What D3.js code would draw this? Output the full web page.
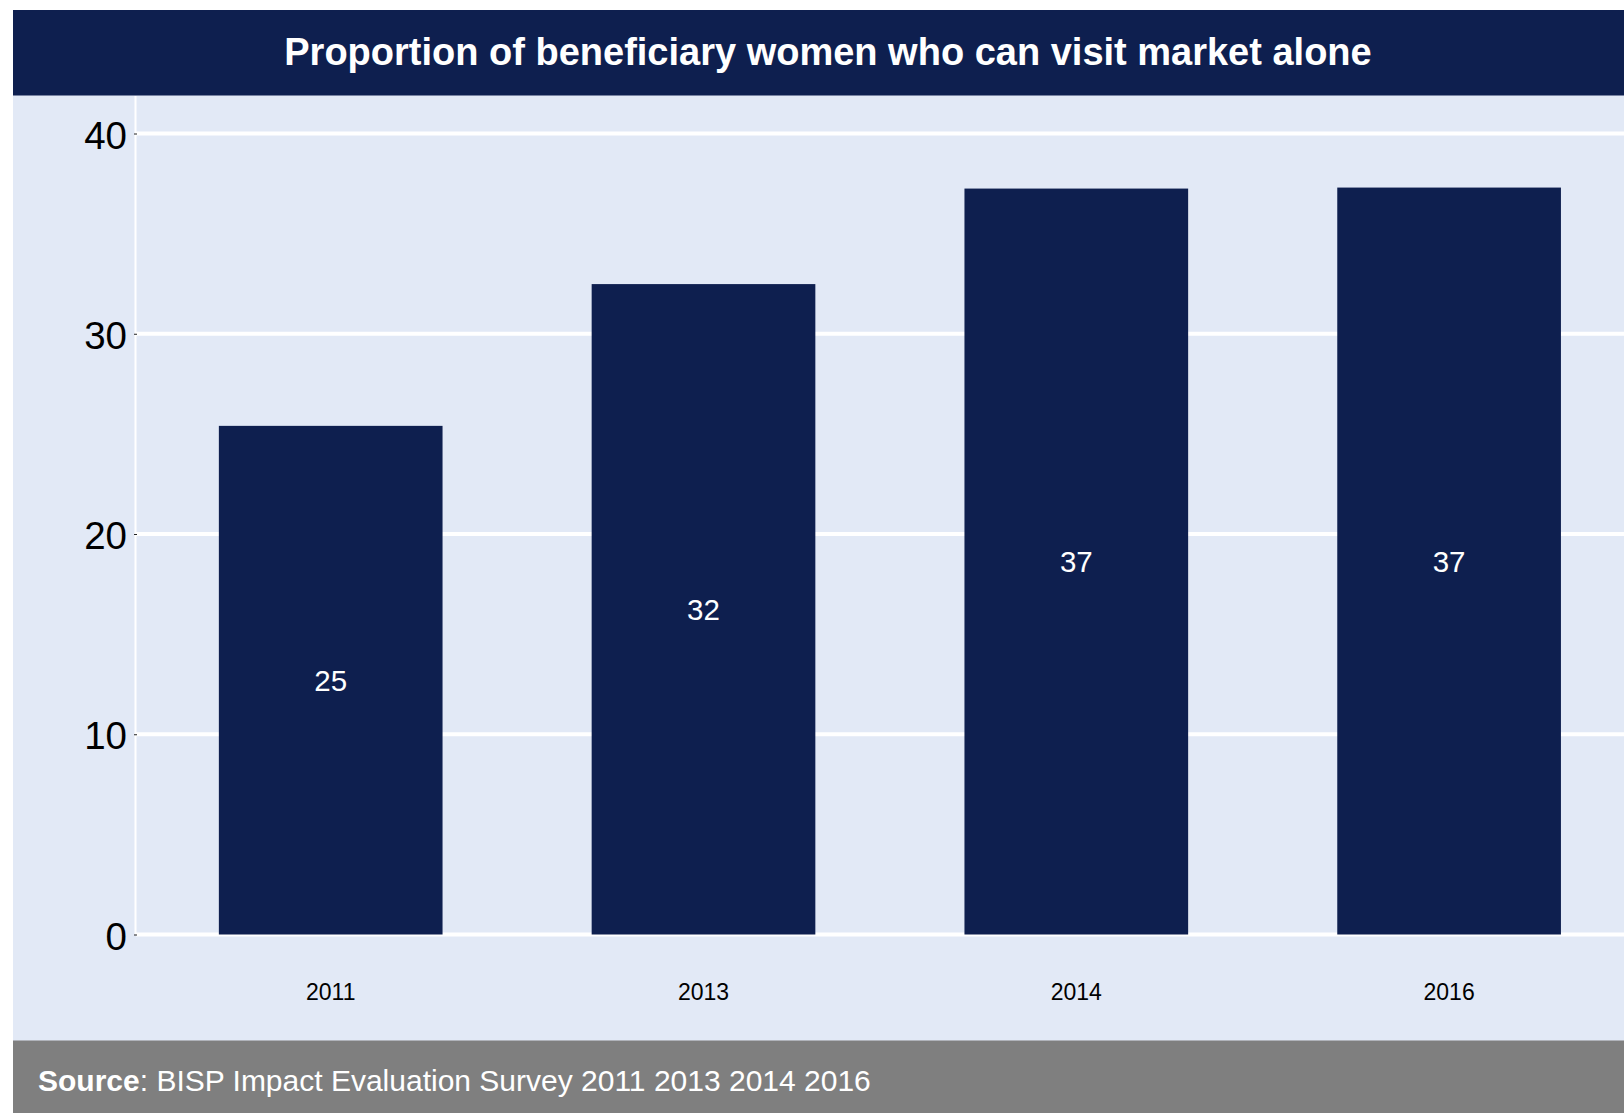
<!DOCTYPE html>
<html>
<head>
<meta charset="utf-8">
<script src="https://cdn.jsdelivr.net/npm/d3@7"></script>
<style>
  html, body { margin: 0; padding: 0; background: #ffffff; }
  svg { display: block; font-family: "Liberation Sans", Arial, Helvetica, sans-serif; }
</style>
</head>
<body>
<svg id="chart" width="1624" height="1113"></svg>
<script>
// ---- data ----
const years = ["2011", "2013", "2014", "2016"];
const proportions = [25.4, 32.48, 37.25, 37.3];
const yTicks = [0, 10, 20, 30, 40];
const titleText = "Proportion of beneficiary women who can visit market alone";
const sourceLabel = "Source";
const sourceText = ": BISP Impact Evaluation Survey 2011 2013 2014 2016";

// ---- layout ----
const W = 1624, H = 1113;
const navy = "#0e1f4f";
const panelBg = "#e2e9f6";
const plotLeft = 136, plotTop = 96, plotBottom = 934.5, plotRight = W;

const svg = d3.select("#chart");

// outer panel background
svg.append("rect").attr("x", 13).attr("y", 10).attr("width", W - 13).attr("height", H - 10)
  .attr("fill", panelBg);

// title banner
svg.append("rect").attr("x", 13).attr("y", 10).attr("width", W - 13).attr("height", 85.5)
  .attr("fill", navy);
svg.append("text").attr("x", 828).attr("y", 64.5)
  .attr("text-anchor", "middle").attr("fill", "#ffffff")
  .attr("font-weight", "bold").attr("font-size", 38)
  .text(titleText);

// scales
const x = d3.scaleBand().domain(years).range([144.3, 1635.5]).paddingInner(0.4).paddingOuter(0.2);
const y = d3.scaleLinear().domain([0, 40]).range([plotBottom, 133.5]);

// y axis line (white)
svg.append("line").attr("x1", plotLeft - 0.5).attr("x2", plotLeft - 0.5)
  .attr("y1", plotTop).attr("y2", plotBottom)
  .attr("stroke", "#ffffff").attr("stroke-width", 2);

// gridlines
svg.append("g").selectAll("line").data(yTicks).join("line")
  .attr("x1", plotLeft).attr("x2", plotRight)
  .attr("y1", d => y(d)).attr("y2", d => y(d))
  .attr("stroke", "#ffffff").attr("stroke-width", 4);

// y axis via d3 axis
const yAxis = d3.axisLeft(y).tickValues(yTicks).tickSize(3).tickPadding(7);
const gy = svg.append("g").attr("transform", `translate(${plotLeft + 1},0)`).call(yAxis);
gy.select(".domain").remove();
gy.selectAll(".tick line").attr("stroke", "#222").attr("stroke-width", 1);
gy.selectAll(".tick text").attr("font-size", 38.5).attr("fill", "#000")
  .attr("font-family", "'Liberation Sans', Arial, sans-serif")
  .attr("dy", "0.38em");

// bars
svg.append("g").selectAll("rect").data(years).join("rect")
  .attr("x", d => x(d)).attr("width", x.bandwidth())
  .attr("y", (d, i) => y(proportions[i]))
  .attr("height", (d, i) => y(0) - y(proportions[i]))
  .attr("fill", navy);

// value labels
const fmt = d3.format(".0f");
svg.append("g").selectAll("text").data(years).join("text")
  .attr("x", d => x(d) + x.bandwidth() / 2)
  .attr("y", (d, i) => (y(proportions[i]) + y(0)) / 2)
  .attr("dy", "0.36em")
  .attr("text-anchor", "middle").attr("fill", "#ffffff").attr("font-size", 29.5)
  .text((d, i) => fmt(proportions[i]));

// x axis labels
const xAxis = d3.axisBottom(x).tickSize(0).tickPadding(0);
const gx = svg.append("g").attr("transform", `translate(0,${plotBottom})`).call(xAxis);
gx.select(".domain").remove();
gx.selectAll(".tick text").attr("font-size", 23).attr("fill", "#000")
  .attr("font-family", "'Liberation Sans', Arial, sans-serif")
  .attr("dy", null).attr("y", 65);

// source banner
svg.append("rect").attr("x", 13).attr("y", 1040.5).attr("width", W - 13).attr("height", H - 1040.5)
  .attr("fill", "#7f7f7f");
const src = svg.append("text").attr("x", 38).attr("y", 1090.5)
  .attr("fill", "#ffffff").attr("font-size", 30);
src.append("tspan").attr("font-weight", "bold").text(sourceLabel);
src.append("tspan").text(sourceText);
</script>
</body>
</html>
